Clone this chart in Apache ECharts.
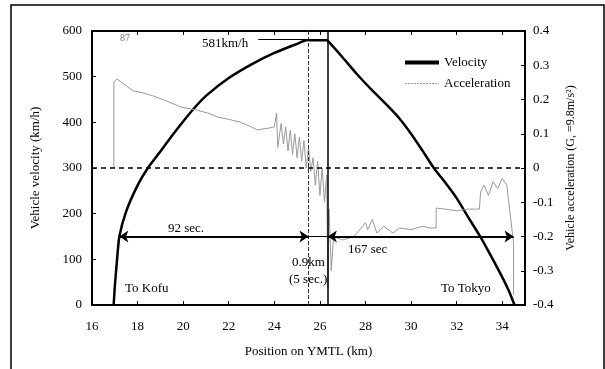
<!DOCTYPE html>
<html>
<head>
<meta charset="utf-8">
<script src="https://cdn.jsdelivr.net/npm/echarts@6/dist/echarts.min.js"></script>
<style>
  html, body { margin: 0; padding: 0; background: #fff; }
  #chart { width: 605px; height: 369px; }
</style>
</head>
<body>
<div id="chart"></div>
<script>
// position (km), velocity (km/h)
const velocityData = [
  [16.95, 0], [17.0, 40], [17.1, 100], [17.2, 150], [17.5, 205], [18.0, 262],
  [18.45, 300], [19.0, 336], [19.5, 370], [20.0, 402], [20.5, 432], [21.0, 458],
  [22.0, 497], [23.0, 527], [24.0, 552], [25.0, 572], [25.4, 580], [26.3, 580],
  [26.5, 570], [27.0, 542], [27.6, 507], [28.2, 475], [29.0, 435], [29.5, 408],
  [30.0, 375], [30.5, 338], [31.0, 300], [31.5, 268], [32.0, 234], [32.5, 193],
  [33.07, 147], [33.5, 108], [34.0, 61], [34.3, 30], [34.5, 5], [34.55, 0]
]
// position (km), acceleration (G)
const accelData = [
  [16.96, 0], [16.96, 0.25], [17.1, 0.26], [17.3, 0.25], [17.5, 0.24], [17.8, 0.225],
  [18.2, 0.22], [18.7, 0.21], [19.3, 0.195], [19.9, 0.178], [20.6, 0.169], [21.2, 0.158],
  [21.5, 0.149], [22.0, 0.142], [22.5, 0.134], [23.0, 0.12], [23.25, 0.111], [23.5, 0.114],
  [23.8, 0.117], [24.0, 0.12], [24.1, 0.16], [24.15, 0.06], [24.3, 0.13], [24.4, 0.07],
  [24.5, 0.12], [24.6, 0.05], [24.7, 0.11], [24.8, 0.04], [24.9, 0.1], [25.0, 0.03],
  [25.1, 0.09], [25.2, 0.02], [25.3, 0.08], [25.4, 0.0], [25.5, 0.06], [25.6, -0.01],
  [25.7, 0.03], [25.8, -0.05], [25.9, 0.02], [26.0, -0.08], [26.1, 0.0], [26.2, -0.1],
  [26.3, -0.02], [26.35, -0.35], [26.4, -0.12], [26.5, -0.3], [26.6, -0.2], [27.0, -0.21],
  [27.5, -0.2], [28.0, -0.16], [28.1, -0.18], [28.3, -0.15], [28.5, -0.19], [28.8, -0.17],
  [29.2, -0.19], [29.5, -0.175], [30.0, -0.18], [30.5, -0.17], [30.8, -0.175], [31.1, -0.175],
  [31.1, -0.117], [31.5, -0.12], [32.0, -0.125], [32.5, -0.12], [33.0, -0.12], [33.05, -0.07],
  [33.2, -0.05], [33.4, -0.08], [33.6, -0.04], [33.8, -0.06], [34.0, -0.03], [34.2, -0.05],
  [34.5, -0.22], [34.5, -0.37]
]
const xTicks = [16, 18, 20, 22, 24, 26, 28, 30, 32, 34]
const peakSpeed = 581
const constStart = 25.5   // start of constant-speed section
const constEnd = 26.35    // end of constant-speed section
const arrowLevel = 150
const accelStart = 17.2
const decelEnd = 34.5

const font = 'Liberation Serif'
const chart = echarts.init(document.getElementById('chart'))

const option = {
  animation: false,
  backgroundColor: '#fff',
  textStyle: { fontFamily: font, color: '#000' },
  grid: { left: 92, right: 80, top: 31, bottom: 64, show: true, borderColor: '#000', borderWidth: 2 },
  legend: {
    left: 398, top: 51, orient: 'vertical', itemGap: 8,
    itemWidth: 34, itemHeight: 14,
    itemStyle: { opacity: 0 },
    textStyle: { fontFamily: font, fontSize: 13, color: '#000' },
    data: [
      { name: 'Velocity', lineStyle: { width: 4, color: '#000' } },
      { name: 'Acceleration', lineStyle: { width: 1, color: '#9a9a9a', type: [2, 1] } }
    ]
  },
  xAxis: [{
    type: 'value', min: 16, max: 35, interval: 2,
    name: 'Position on YMTL (km)', nameLocation: 'middle', nameGap: 40,
    nameTextStyle: { fontFamily: font, fontSize: 13, color: '#000' },
    axisLine: { onZero: false, lineStyle: { color: '#000', width: 2 } },
    axisTick: { inside: true, length: 4, lineStyle: { color: '#000' } },
    axisLabel: { showMaxLabel: false, margin: 15, fontFamily: font, fontSize: 13, color: '#000',
      formatter: v => xTicks.includes(v) ? String(v) : '' },
    splitLine: { show: false }
  }, {
    type: 'value', min: 16, max: 35, interval: 2, position: 'top',
    axisLine: { onZero: false, lineStyle: { color: '#000', width: 2 } },
    axisTick: { inside: true, length: 4, lineStyle: { color: '#000' } },
    axisLabel: { show: false }, splitLine: { show: false }
  }],
  yAxis: [{
    type: 'value', min: 0, max: 600, interval: 100,
    name: 'Vehicle velocity (km/h)', nameLocation: 'middle', nameGap: 50,
    nameTextStyle: { fontFamily: font, fontSize: 13, color: '#000' },
    axisLine: { show: true, onZero: false, lineStyle: { color: '#000', width: 2 } },
    axisTick: { show: true, inside: true, length: 4, lineStyle: { color: '#000' } },
    axisLabel: { margin: 10, fontFamily: font, fontSize: 13, color: '#000' },
    splitLine: { show: false }
  }, {
    type: 'value', min: -0.4, max: 0.4, interval: 0.1,
    name: 'Vehicle acceleration (G, =9.8m/s²)', nameLocation: 'middle', nameGap: 40,
    nameTextStyle: { fontFamily: font, fontSize: 12, color: '#000' },
    axisLine: { show: true, onZero: false, lineStyle: { color: '#000', width: 2 } },
    axisTick: { show: true, inside: true, length: 4, lineStyle: { color: '#000' } },
    axisLabel: { margin: 8, fontFamily: font, fontSize: 13, color: '#000',
      formatter: v => Math.abs(v) < 1e-9 ? '0' : v.toFixed(1) },
    splitLine: { show: false }
  }],
  series: [{
    name: 'Velocity', type: 'line', yAxisIndex: 0, symbol: 'none', smooth: 0.2,
    data: velocityData,
    lineStyle: { color: '#000', width: 2.5 },
    itemStyle: { color: '#000' },
    markLine: {
      silent: true, symbol: 'none', label: { show: false },
      lineStyle: { color: '#000', type: 'solid', width: 1 },
      data: [
        [{ coord: [16, 300], lineStyle: { type: [5, 4], width: 1.5, color: '#000' } }, { coord: [35, 300] }],
        [{ coord: [constStart, 0], lineStyle: { type: 'dashed', width: 1, color: '#333' } }, { coord: [constStart, 600] }],
        [{ coord: [constEnd, 0], lineStyle: { type: 'solid', width: 1.5, color: '#000' } }, { coord: [constEnd, 600] }],
        [{ coord: [23.3, peakSpeed], lineStyle: { type: 'solid', width: 1, color: '#000' } }, { coord: [25.5, peakSpeed] }],
        [{ coord: [accelStart, arrowLevel], symbol: 'arrow', symbolSize: 9, lineStyle: { type: 'solid', width: 2, color: '#000' } },
         { coord: [constStart, arrowLevel], symbol: 'arrow', symbolSize: 9 }],
        [{ coord: [constStart, arrowLevel], lineStyle: { type: 'solid', width: 1, color: '#000' } }, { coord: [constEnd, arrowLevel] }],
        [{ coord: [constEnd, arrowLevel], symbol: 'arrow', symbolSize: 9, lineStyle: { type: 'solid', width: 2, color: '#000' } },
         { coord: [decelEnd, arrowLevel], symbol: 'arrow', symbolSize: 9 }]
      ]
    }
  }, {
    name: 'Acceleration', type: 'line', yAxisIndex: 1, symbol: 'none',
    data: accelData,
    lineStyle: { color: '#9a9a9a', width: 1 },
    itemStyle: { color: '#9a9a9a' }
  }],
  graphic: [
    { type: 'rect', shape: { x: 11, y: 5, width: 593, height: 380 }, style: { fill: 'none', stroke: '#000', lineWidth: 1.5 }, silent: true },
    { type: 'text', left: 202, top: 37, style: { text: '581km/h', font: '13px "Liberation Serif"', fill: '#000' } },
    { type: 'text', left: 120, top: 33, style: { text: '87', font: '10px "Liberation Serif"', fill: '#777' } },
    { type: 'text', left: 168, top: 222, style: { text: '92 sec.', font: '13px "Liberation Serif"', fill: '#000' } },
    { type: 'text', left: 348, top: 243, style: { text: '167 sec', font: '13px "Liberation Serif"', fill: '#000' } },
    { type: 'text', left: 292, top: 256, style: { text: '0.9km', font: '13px "Liberation Serif"', fill: '#000' } },
    { type: 'text', left: 289, top: 273, style: { text: '(5 sec.)', font: '13px "Liberation Serif"', fill: '#000' } },
    { type: 'text', left: 125, top: 282, style: { text: 'To Kofu', font: '13px "Liberation Serif"', fill: '#000' } },
    { type: 'text', left: 441, top: 282, style: { text: 'To Tokyo', font: '13px "Liberation Serif"', fill: '#000' } }
  ]
}
chart.setOption(option)
</script>
</body>
</html>
